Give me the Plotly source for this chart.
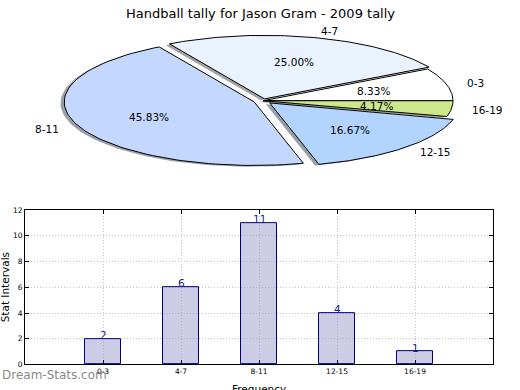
import math
import plotly.graph_objects as go

# ---------------- data ----------------
categories = ["0-3", "4-7", "8-11", "12-15", "16-19"]
counts = [2, 6, 11, 4, 1]
pie_colors = ["#FFFFFF", "#EAF1FF", "#C4D8FF", "#B3D4FF", "#CCE88A"]
explode = [0.0, 0.03, 0.05, 0.05, 0.0]
title_text = "Handball tally for Jason Gram - 2009 tally"
y_ticks = [0, 2, 4, 6, 8, 10, 12]

# ---------------- style / geometry ----------------
W, H = 520, 390
FONT = "DejaVu Sans"
CX, CY = 263.0, 99.0      # pie centre (pixels in the top half)
RX, RY = 190.0, 65.0      # ellipse radii (pixels)
SHADOW = (-0.02, -0.02)   # shadow offset in unit radii

fig = go.Figure()

total = float(sum(counts))


def to_px(ux, uy):
    return CX + RX * ux, CY - RY * uy


def wedge(t1, t2, ox, oy, n=80):
    xs, ys = [], []
    px, py = to_px(ox, oy)
    xs.append(px); ys.append(py)
    for k in range(n + 1):
        t = math.radians(t1 + (t2 - t1) * k / n)
        px, py = to_px(ox + math.cos(t), oy + math.sin(t))
        xs.append(px); ys.append(py)
    px, py = to_px(ox, oy)
    xs.append(px); ys.append(py)
    return xs, ys


def shade(hexc):
    r = int(hexc[1:3], 16); g = int(hexc[3:5], 16); b = int(hexc[5:7], 16)
    return f"rgba({int(r*0.3)},{int(g*0.3)},{int(b*0.3)},0.5)"


angles = []
a = 0.0
for c in counts:
    span = 360.0 * c / total
    angles.append((a, a + span))
    a += span

# shadows first
for (t1, t2), e, col in zip(angles, explode, pie_colors):
    mid = math.radians((t1 + t2) / 2)
    ox, oy = e * math.cos(mid) + SHADOW[0], e * math.sin(mid) + SHADOW[1]
    xs, ys = wedge(t1, t2, ox, oy)
    fig.add_trace(go.Scatter(x=xs, y=ys, xaxis="x2", yaxis="y2", mode="lines",
                             fill="toself", fillcolor=shade(col),
                             line=dict(width=0), hoverinfo="skip", showlegend=False))

annotations = []
for (t1, t2), e, col, cat, c in zip(angles, explode, pie_colors, categories, counts):
    mid = math.radians((t1 + t2) / 2)
    ox, oy = e * math.cos(mid), e * math.sin(mid)
    xs, ys = wedge(t1, t2, ox, oy)
    fig.add_trace(go.Scatter(x=xs, y=ys, xaxis="x2", yaxis="y2", mode="lines",
                             fill="toself", fillcolor=col,
                             line=dict(color="black", width=1),
                             hoverinfo="skip", showlegend=False))
    lx, ly = to_px(ox + 1.1 * math.cos(mid), oy + 1.1 * math.sin(mid))
    annotations.append(dict(x=lx, y=ly, xref="x2", yref="y2", text=cat, showarrow=False,
                            xanchor="left" if math.cos(mid) > 0 else "right",
                            yanchor="middle", font=dict(family=FONT, size=10.5, color="black")))
    px_, py_ = to_px(ox + 0.6 * math.cos(mid), oy + 0.6 * math.sin(mid))
    annotations.append(dict(x=px_, y=py_, xref="x2", yref="y2",
                            text=f"{100.0 * c / total:.2f}%", showarrow=False,
                            xanchor="center", yanchor="middle",
                            font=dict(family=FONT, size=10.5, color="black")))

# ---------------- bar chart ----------------
fig.add_trace(go.Bar(x=categories, y=counts, width=0.46,
                     marker=dict(color="rgba(153,153,204,0.5)",
                                 line=dict(color="navy", width=1)),
                     hoverinfo="skip", showlegend=False))

for cat, c in zip(categories, counts):
    annotations.append(dict(x=cat, y=c, xref="x", yref="y", text=str(c), showarrow=False,
                            xanchor="center", yanchor="bottom", yshift=-4,
                            font=dict(family=FONT, size=10.5, color="#1c1c96")))

annotations.append(dict(x=0.5, y=1 - 10 / H, xref="paper", yref="paper", text=title_text,
                        showarrow=False, xanchor="center", yanchor="middle",
                        font=dict(family=FONT, size=13, color="black")))
annotations.append(dict(x=5 / W, y=(H - 290) / H, xref="paper", yref="paper",
                        text="Stat Intervals", textangle=-90, showarrow=False,
                        xanchor="center", yanchor="middle",
                        font=dict(family=FONT, size=10.5, color="black")))
annotations.append(dict(x=259 / W, y=(H - 386) / H, xref="paper", yref="paper",
                        text="Frequency", showarrow=False, xanchor="center", yanchor="top",
                        font=dict(family=FONT, size=10.5, color="black")))
annotations.append(dict(x=0, y=(H - 380) / H, xref="paper", yref="paper",
                        text="Dream-Stats.com", showarrow=False, xanchor="left",
                        yanchor="middle",
                        font=dict(family=FONT, size=12, color="rgba(120,120,120,0.9)")))

axis_common = dict(showline=True, linecolor="black", linewidth=1, mirror="allticks",
                   ticks="inside", ticklen=4, tickcolor="black",
                   showgrid=True, gridcolor="#c4c4c4", gridwidth=1, griddash="1px,2px",
                   zeroline=False, tickfont=dict(family=FONT, size=7.5, color="black"))

fig.update_layout(
    width=W, height=H,
    margin=dict(l=0, r=0, t=0, b=0),
    paper_bgcolor="white", plot_bgcolor="rgba(0,0,0,0)",
    xaxis=dict(domain=[25 / W, 493 / W], type="category", range=[-1, 5],
               categoryorder="array", categoryarray=categories, **axis_common),
    yaxis=dict(domain=[(H - 369) / H, (H - 211) / H], range=[0, 12],
               tickvals=y_ticks, **axis_common),
    xaxis2=dict(domain=[0, 1], range=[0, W], visible=False, fixedrange=True),
    yaxis2=dict(domain=[0.5, 1], range=[H / 2, 0], visible=False, fixedrange=True),
    annotations=annotations,
    bargap=0,
)

fig.write_html(
    "out.html", config={"displayModeBar": False},
    post_script=("document.documentElement.style.margin='0';"
                 "document.documentElement.style.overflow='hidden';"
                 "document.body.style.margin='0';document.body.style.padding='0';"
                 "document.body.style.overflow='hidden';"
                 "document.body.style.height='390px';"))
